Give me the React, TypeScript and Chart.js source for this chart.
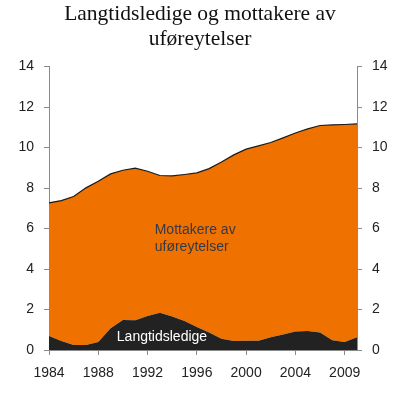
import { useEffect, useRef } from "react";
import Chart from "chart.js/auto";

// years 1984-2009, one point per year
const YEARS = [
  "1984", "1985", "1986", "1987", "1988", "1989", "1990", "1991", "1992",
  "1993", "1994", "1995", "1996", "1997", "1998", "1999", "2000", "2001",
  "2002", "2003", "2004", "2005", "2006", "2007", "2008", "2009",
];
// labels shown under the axis (tick marks only where a label is set)
const X_TICK_LABELS = [
  "1984", "", "", "", "1988", "", "", "", "1992", "", "", "", "1996",
  "", "", "", "2000", "", "", "", "2004", "", "", "", "2009", "",
];
const LANGTIDSLEDIGE = [
  0.69, 0.45, 0.25, 0.25, 0.4, 1.07, 1.48, 1.47, 1.68, 1.84, 1.65, 1.43, 1.14,
  0.86, 0.56, 0.44, 0.46, 0.46, 0.63, 0.76, 0.92, 0.94, 0.86, 0.48, 0.39, 0.63,
];
const UFORE = [
  6.58, 6.93, 7.33, 7.76, 7.94, 7.63, 7.4, 7.51, 7.15, 6.78, 6.95, 7.24, 7.61,
  8.1, 8.73, 9.2, 9.46, 9.62, 9.62, 9.72, 9.8, 9.98, 10.23, 10.64, 10.75, 10.54,
];
const TITLE = ["Langtidsledige og mottakere av", "uføreytelser"];

const AXIS_GREY = "#8a8a8a";
const SANS = "'Liberation Sans', Arial, sans-serif";

const labelsPlugin = {
  id: "areaLabels",
  afterDatasetsDraw(chart: any) {
    const { ctx, scales } = chart;
    const x = scales.x;
    const y = scales.y;
    ctx.save();
    ctx.font = `14px ${SANS}`;
    ctx.textBaseline = "alphabetic";
    ctx.fillStyle = "#343a48";
    ctx.textAlign = "left";
    const mx = x.getPixelForValue(8.58);
    const my = y.getPixelForValue(5.71);
    ctx.fillText("Mottakere av", mx, my);
    ctx.fillText("uføreytelser", mx, my + 17);
    ctx.fillStyle = "#ffffff";
    ctx.textAlign = "center";
    ctx.fillText("Langtidsledige", x.getPixelForValue(9.17), y.getPixelForValue(0.44));
    ctx.restore();
  },
};

export default function App() {
  const canvasRef = useRef<HTMLCanvasElement>(null);

  useEffect(() => {
    if (!canvasRef.current) return;
    const ctx = canvasRef.current.getContext("2d");
    if (!ctx) return;

    const yTicks = {
      color: "#222",
      font: { family: SANS, size: 14 },
      padding: 10,
      stepSize: 2,
    };

    const chart = new Chart(ctx, {
      type: "line",
      data: {
        labels: YEARS,
        datasets: [
          {
            label: "Langtidsledige",
            data: LANGTIDSLEDIGE,
            backgroundColor: "#222222",
            borderColor: "#222222",
            borderWidth: 0,
            fill: "origin",
            pointRadius: 0,
            tension: 0,
          },
          {
            label: "Mottakere av uføreytelser",
            data: UFORE,
            backgroundColor: "#ef7200",
            borderColor: "#1a1a1a",
            borderWidth: 1.2,
            fill: "-1",
            pointRadius: 0,
            tension: 0,
          },
        ],
      },
      options: {
        responsive: false,
        animation: false,
        devicePixelRatio: 1,
        layout: { padding: 0 },
        plugins: {
          legend: { display: false },
          tooltip: { enabled: false },
          title: {
            display: true,
            text: TITLE,
            color: "#111",
            font: { family: "'Liberation Serif', 'Times New Roman', serif", size: 21.5, weight: "normal", lineHeight: 1.2 },
            padding: { top: 1, bottom: 14 },
          },
        },
        scales: {
          x: {
            offset: false,
            afterFit: (s: any) => {
              s.height = 50;
            },
            grid: {
              drawOnChartArea: false,
              tickLength: 5,
              color: (c: any) => (X_TICK_LABELS[c.index] ? AXIS_GREY : "rgba(0,0,0,0)"),
            },
            border: { color: AXIS_GREY, width: 1 },
            ticks: {
              autoSkip: false,
              maxRotation: 0,
              color: "#222",
              font: { family: SANS, size: 14 },
              padding: 10,
              callback: (_v: any, i: number) => X_TICK_LABELS[i],
            },
          },
          y: {
            stacked: true,
            position: "left",
            min: 0,
            max: 14,
            afterFit: (s: any) => {
              s.width = 49;
            },
            grid: { drawOnChartArea: false, tickLength: 5, color: AXIS_GREY },
            border: { color: AXIS_GREY, width: 1 },
            ticks: yTicks,
          },
          y2: {
            position: "right",
            min: 0,
            max: 14,
            afterFit: (s: any) => {
              s.width = 43;
            },
            grid: { drawOnChartArea: false, tickLength: 5, color: AXIS_GREY },
            border: { color: AXIS_GREY, width: 1 },
            ticks: yTicks,
          },
        },
      },
      plugins: [labelsPlugin],
    });

    return () => {
      chart.destroy();
    };
  }, []);

  return (
    <div style={{ position: "fixed", left: 0, top: 0, width: 400, height: 400, background: "#fff" }}>
      <canvas ref={canvasRef} width={400} height={400}></canvas>
    </div>
  );
}
